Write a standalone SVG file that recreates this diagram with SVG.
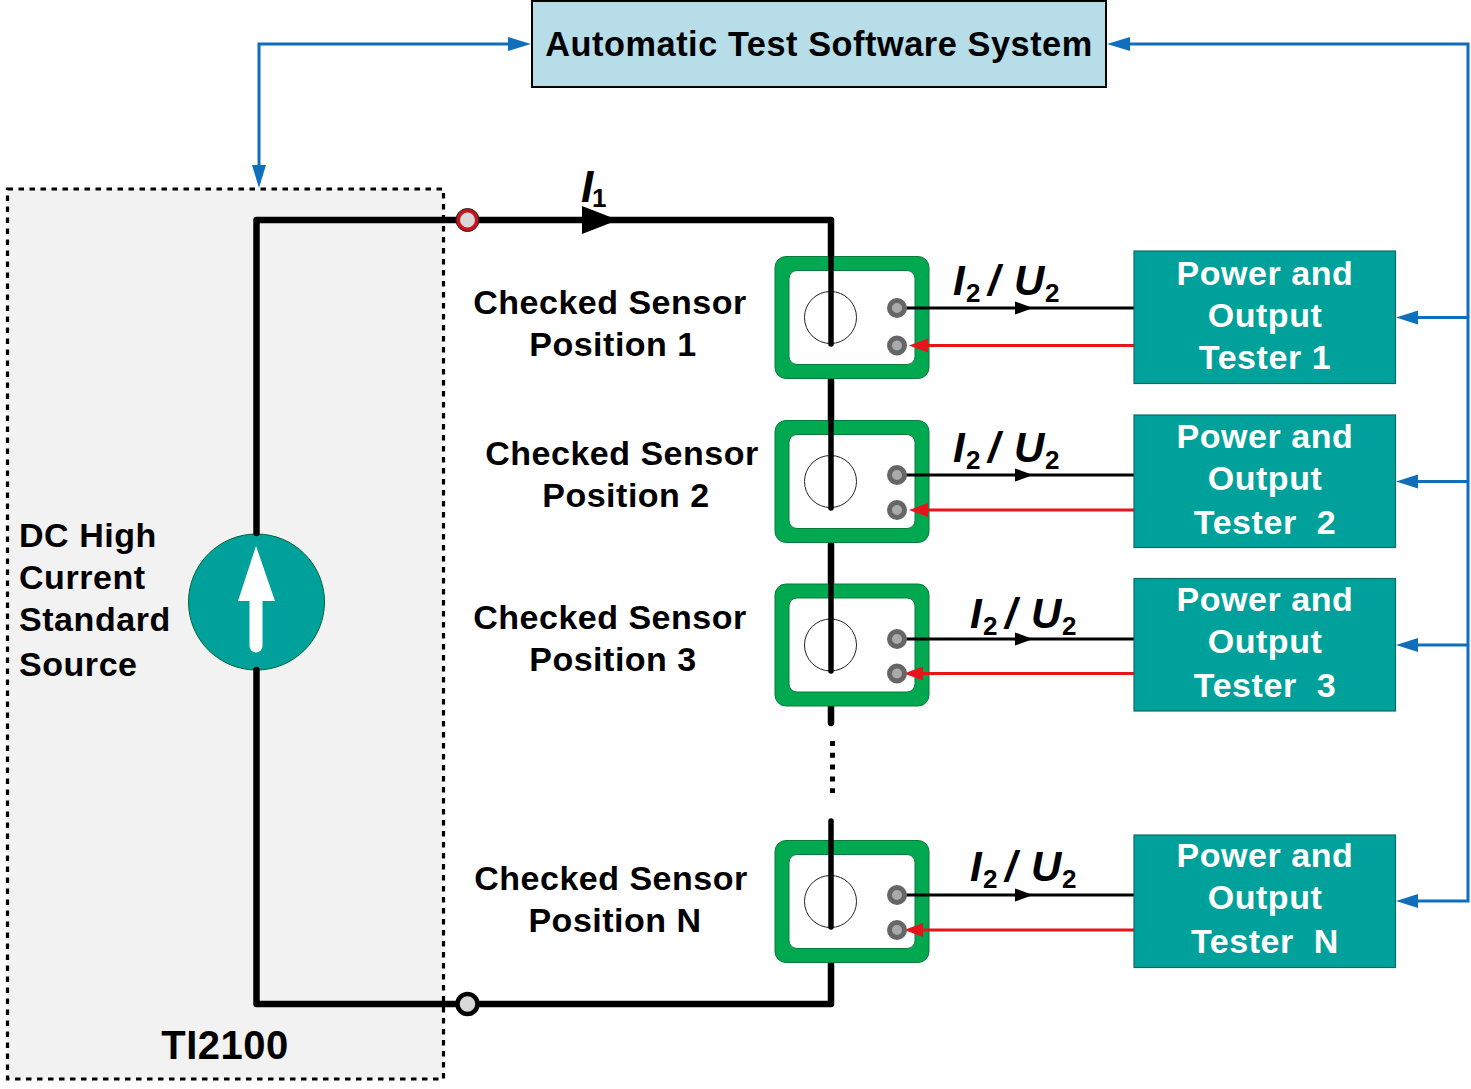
<svg xmlns="http://www.w3.org/2000/svg" xmlns:xlink="http://www.w3.org/1999/xlink" width="1471" height="1089" viewBox="0 0 1471 1089">
<style>
text{font-family:"Liberation Sans",Arial,sans-serif;font-weight:700;fill:#000}
.lbl{font-size:34px;letter-spacing:.5px;text-anchor:middle}
.src{font-size:34px;letter-spacing:.55px}
.tst{font-size:34px;letter-spacing:.55px;text-anchor:middle;fill:#fff}
.sig{font-size:42px;font-style:italic}
.sub{font-size:26px;font-style:normal}
.bus{fill:none;stroke:#000;stroke-width:6.5;stroke-linejoin:round;stroke-linecap:round}
.core{fill:none;stroke:#000;stroke-width:5.5;stroke-linecap:round}
.blue{fill:none;stroke:#0f6fbd;stroke-width:3}
.bf{fill:#0f6fbd}
.tbox{fill:#00a19a;stroke:#0b6b66;stroke-width:1.2}
.frame{fill:#00a94f;stroke:#0a7a3c;stroke-width:1}
.win{fill:#fff;stroke:#0a7a3c;stroke-width:1}
.ring{fill:#fff;stroke:#222;stroke-width:1}
.pin{fill:#aaa;stroke:#666;stroke-width:5}
.out{stroke:#000;stroke-width:3;fill:none}
.ret{stroke:#e8141c;stroke-width:3;fill:none}
</style>
<defs>
<g id="sensor">
<rect class="frame" x="775" y="256.500" width="154" height="122" rx="11"/>
<rect class="win" x="789" y="270.500" width="126" height="94" rx="8"/>
<circle class="ring" cx="830.500" cy="317.500" r="26"/>
</g>
</defs>

<g id="source-panel">
<rect x="7.500" y="189" width="436" height="890" fill="#f2f2f2" stroke="#000" stroke-width="3.200" stroke-dasharray="5.500 5.500"/>
<text class="src" x="19" y="547">DC High</text>
<text class="src" x="19" y="589">Current</text>
<text class="src" x="19" y="631">Standard</text>
<text class="src" x="19" y="676">Source</text>
<text x="225" y="1059" font-size="40" text-anchor="middle" letter-spacing=".5">TI2100</text>
</g>

<g id="current-source">
<circle cx="256.500" cy="602" r="68" fill="#00a19a" stroke="#063" stroke-width="1"/>
<polygon points="256,546 275,601 238,601" fill="#fff"/>
<path d="M256 600V646" stroke="#fff" stroke-width="13" stroke-linecap="round"/>
</g>

<g id="connectors">
<path class="bus" d="M256.500 533V220H831V344"/>
<path class="bus" d="M256.500 670V1004H831V960"/>
<path class="bus" d="M831 378V420M831 542V584"/>
<path class="bus" d="M831 706V723"/>
<path d="M832.500 741V793" fill="none" stroke="#000" stroke-width="5" stroke-dasharray="5 6.800"/>
<polygon points="582,206 618,220 582,234"/>
<path class="blue" d="M259 168V44H510"/>
<polygon class="bf" points="252,165 266,165 259,188"/>
<polygon class="bf" points="508,37 531,44 508,51"/>
<path class="blue" d="M1128 44H1468V901H1418"/>
<polygon class="bf" points="1130,37 1107,44 1130,51"/>
<path class="blue" d="M1468 317.500H1417M1468 481.500H1417M1468 645H1417"/>
<polygon class="bf" points="1418,310.500 1396,317.500 1418,324.500"/>
<polygon class="bf" points="1418,474.500 1396,481.500 1418,488.500"/>
<polygon class="bf" points="1418,638 1396,645 1418,652"/>
<polygon class="bf" points="1418,894 1396,901 1418,908"/>
</g>

<g id="terminals">
<circle cx="467.500" cy="220" r="9.500" fill="#d9d9d9" stroke="#c8141c" stroke-width="4"/>
<circle cx="467.500" cy="220" r="11.500" fill="none" stroke="#222" stroke-width="1"/>
<circle cx="467.500" cy="1004" r="10" fill="#d9d9d9" stroke="#000" stroke-width="4.500"/>
</g>

<g id="label-i1"><text class="sig" x="581" y="202" style="font-size:44px">I</text><text class="sub" x="592" y="207">1</text></g>

<g id="ats"><rect x="532" y="1" width="574" height="86" fill="#b7dde8" stroke="#000" stroke-width="2"/>
<text x="819" y="56" font-size="34.300" text-anchor="middle" letter-spacing=".55">Automatic Test Software System</text></g>

<g id="sensor-1"><use xlink:href="#sensor" href="#sensor"/>
<path class="core" d="M831 256V344"/>
<text class="lbl" x="610" y="313.500">Checked Sensor</text><text class="lbl" x="613" y="355.500">Position 1</text>
<path class="out" d="M897 308H1134"/><polygon points="1015,301.500 1033,308 1015,314.500"/>
<path class="ret" d="M925 345.500H1134"/><polygon points="909,345.500 928,338.500 928,352.500" fill="#e8141c"/>
<circle class="pin" cx="897" cy="308" r="7.500"/><circle class="pin" cx="897" cy="345.500" r="7.500"/>
<text class="sig" y="295"><tspan x="953">I</tspan><tspan x="966" y="302" class="sub">2</tspan><tspan x="988" y="295">/</tspan><tspan x="1014">U</tspan><tspan x="1045" y="302" class="sub">2</tspan></text></g>

<g id="sensor-2"><use xlink:href="#sensor" href="#sensor" y="164"/>
<path class="core" d="M831 420V508"/>
<text class="lbl" x="622" y="464.500">Checked Sensor</text><text class="lbl" x="626" y="506.500">Position 2</text>
<path class="out" d="M897 475H1134"/><polygon points="1015,468.500 1033,475 1015,481.500"/>
<path class="ret" d="M925 510H1134"/><polygon points="909,510 928,503 928,517" fill="#e8141c"/>
<circle class="pin" cx="897" cy="475" r="7.500"/><circle class="pin" cx="897" cy="510" r="7.500"/>
<text class="sig" y="462"><tspan x="953">I</tspan><tspan x="966" y="469" class="sub">2</tspan><tspan x="988" y="462">/</tspan><tspan x="1014">U</tspan><tspan x="1045" y="469" class="sub">2</tspan></text></g>

<g id="sensor-3"><use xlink:href="#sensor" href="#sensor" y="327.500"/>
<path class="core" d="M831 584V671"/>
<text class="lbl" x="610" y="628.500">Checked Sensor</text><text class="lbl" x="613" y="670.500">Position 3</text>
<path class="out" d="M897 639H1134"/><polygon points="1015,632.500 1033,639 1015,645.500"/>
<path class="ret" d="M920 673.500H1134"/><polygon points="904,673.500 923,666.500 923,680.500" fill="#e8141c"/>
<circle class="pin" cx="897" cy="639" r="7.500"/><circle class="pin" cx="897" cy="673.500" r="7.500"/>
<text class="sig" y="628"><tspan x="970">I</tspan><tspan x="983" y="635" class="sub">2</tspan><tspan x="1005" y="628">/</tspan><tspan x="1031">U</tspan><tspan x="1062" y="635" class="sub">2</tspan></text></g>

<g id="sensor-n"><use xlink:href="#sensor" href="#sensor" y="584"/>
<path class="core" d="M831 821V927"/>
<text class="lbl" x="611" y="890">Checked Sensor</text><text class="lbl" x="615" y="932">Position N</text>
<path class="out" d="M897 895H1134"/><polygon points="1015,888.500 1033,895 1015,901.500"/>
<path class="ret" d="M920 930H1134"/><polygon points="904,930 923,923 923,937" fill="#e8141c"/>
<circle class="pin" cx="897" cy="895" r="7.500"/><circle class="pin" cx="897" cy="930" r="7.500"/>
<text class="sig" y="881"><tspan x="970">I</tspan><tspan x="983" y="888" class="sub">2</tspan><tspan x="1005" y="881">/</tspan><tspan x="1031">U</tspan><tspan x="1062" y="888" class="sub">2</tspan></text></g>

<g id="tester-1"><rect class="tbox" x="1134" y="251" width="261.500" height="132.500"/>
<text class="tst" x="1265" y="285">Power and</text><text class="tst" x="1265" y="327">Output</text><text class="tst" x="1265" y="369">Tester 1</text></g>
<g id="tester-2"><rect class="tbox" x="1134" y="415" width="261.500" height="132.500"/>
<text class="tst" x="1265" y="448">Power and</text><text class="tst" x="1265" y="490">Output</text><text class="tst" x="1265" y="534" xml:space="preserve">Tester  2</text></g>
<g id="tester-3"><rect class="tbox" x="1134" y="578.500" width="261.500" height="132.500"/>
<text class="tst" x="1265" y="611">Power and</text><text class="tst" x="1265" y="653">Output</text><text class="tst" x="1265" y="697" xml:space="preserve">Tester  3</text></g>
<g id="tester-n"><rect class="tbox" x="1134" y="835" width="261.500" height="132.500"/>
<text class="tst" x="1265" y="867">Power and</text><text class="tst" x="1265" y="909">Output</text><text class="tst" x="1265" y="953" xml:space="preserve">Tester  N</text></g>
</svg>
